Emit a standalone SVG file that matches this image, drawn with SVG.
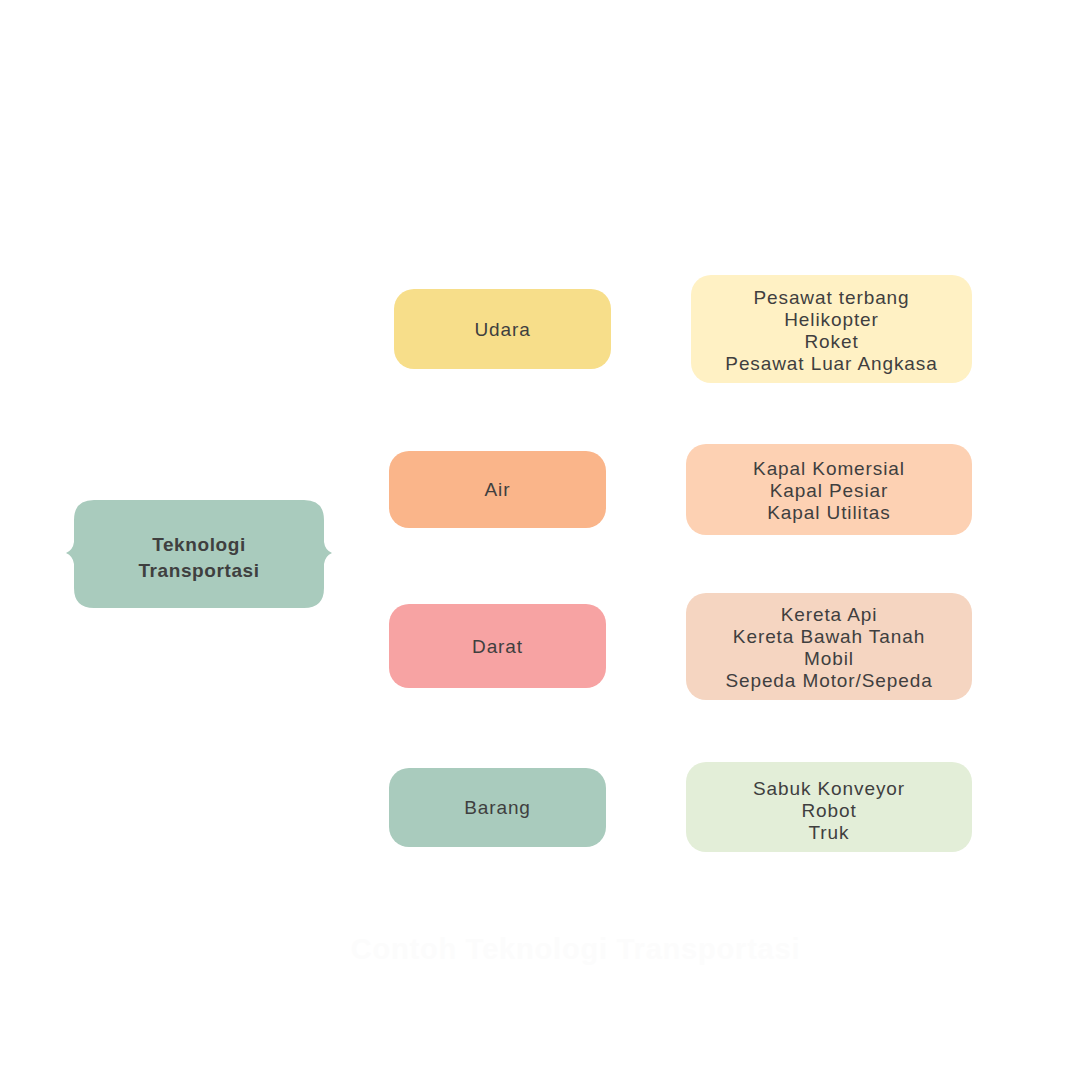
<svg xmlns="http://www.w3.org/2000/svg" width="1080" height="1080" viewBox="0 0 1080 1080">
<style>
.t{font-family:"Liberation Sans",Arial,sans-serif;font-size:19px;letter-spacing:0.9px;fill:#3f3f3f;text-anchor:middle}
.b{font-weight:bold;letter-spacing:0.6px}
.ttl{font-family:"Liberation Sans",Arial,sans-serif;font-weight:bold;font-size:29px;letter-spacing:0.8px;fill:#fcfcfc;text-anchor:middle}
</style>
<rect width="1080" height="1080" fill="#ffffff"/>
<g id="connectors"></g>
<g id="root">
<path d="M94,500 H304 Q324,500 324,520 V542 Q325,550 332,553 Q325,556 324,564 V588 Q324,608 304,608 H94 Q74,608 74,588 V564 Q73,556 66,553 Q73,550 74,542 V520 Q74,500 94,500 Z" fill="#a9cbbd"/>
<text class="t b" x="199" y="551">Teknologi</text>
<text class="t b" x="199" y="577">Transportasi</text>
</g>
<g id="udara">
<rect x="394" y="289" width="217" height="80" rx="20" fill="#f7de8a"/>
<text class="t" x="502.5" y="336">Udara</text>
</g>
<g id="air">
<rect x="389" y="451" width="217" height="77" rx="20" fill="#fab58a"/>
<text class="t" x="497.5" y="496">Air</text>
</g>
<g id="darat">
<rect x="389" y="604" width="217" height="84" rx="20" fill="#f7a3a3"/>
<text class="t" x="497.5" y="653">Darat</text>
</g>
<g id="barang">
<rect x="389" y="768" width="217" height="79" rx="20" fill="#a9cbbd"/>
<text class="t" x="497.5" y="814">Barang</text>
</g>
<g id="udara-list">
<rect x="691" y="275" width="281" height="108" rx="20" fill="#fff1c4"/>
<text class="t" x="831.5" y="304">Pesawat terbang</text>
<text class="t" x="831.5" y="326">Helikopter</text>
<text class="t" x="831.5" y="348">Roket</text>
<text class="t" x="831.5" y="370">Pesawat Luar Angkasa</text>
</g>
<g id="air-list">
<rect x="686" y="444" width="286" height="91" rx="20" fill="#fdd1b3"/>
<text class="t" x="829" y="475">Kapal Komersial</text>
<text class="t" x="829" y="497">Kapal Pesiar</text>
<text class="t" x="829" y="519">Kapal Utilitas</text>
</g>
<g id="darat-list">
<rect x="686" y="593" width="286" height="107" rx="20" fill="#f5d5c1"/>
<text class="t" x="829" y="621">Kereta Api</text>
<text class="t" x="829" y="643">Kereta Bawah Tanah</text>
<text class="t" x="829" y="665">Mobil</text>
<text class="t" x="829" y="687">Sepeda Motor/Sepeda</text>
</g>
<g id="barang-list">
<rect x="686" y="762" width="286" height="90" rx="20" fill="#e3eed8"/>
<text class="t" x="829" y="795">Sabuk Konveyor</text>
<text class="t" x="829" y="817">Robot</text>
<text class="t" x="829" y="839">Truk</text>
</g>
<text class="ttl" x="575.5" y="959">Contoh Teknologi Transportasi</text>
</svg>
